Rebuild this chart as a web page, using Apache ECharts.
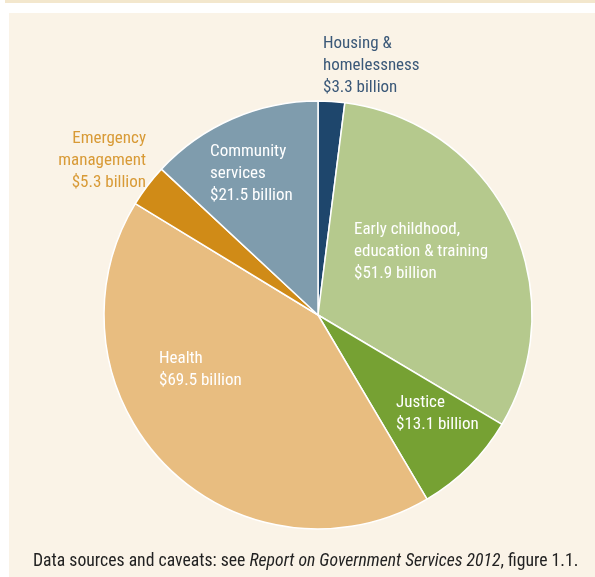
<!DOCTYPE html>
<html>
<head>
<meta charset="utf-8">
<script src="https://cdn.jsdelivr.net/npm/echarts@6/dist/echarts.min.js"></script>
<style>
  html, body { margin: 0; padding: 0; background: #ffffff; }
  #chart { width: 595px; height: 577px; }
</style>
</head>
<body>
<div id="chart"></div>
<script>
// Government services expenditure by sector, 2010-11
const categories = [
  'Housing &\nhomelessness',
  'Early childhood,\neducation & training',
  'Justice',
  'Health',
  'Emergency\nmanagement',
  'Community\nservices'
];
const values = [3.3, 51.9, 13.1, 69.5, 5.3, 21.5];
const colors = ['#1e466c', '#b5c98d', '#76a133', '#e8bd80', '#d08b17', '#7f9cad'];
const labelColors = ['#3a5878', '#ffffff', '#ffffff', '#ffffff', '#d89a36', '#ffffff'];

// Where each sector's caption sits (top-left of text block, or top-right for right aligned)
const labelSpots = [
  { x: 323, y: 33, align: 'left' },
  { x: 354, y: 219, align: 'left' },
  { x: 396, y: 392, align: 'left' },
  { x: 159, y: 348, align: 'left' },
  { x: 146, y: 128, align: 'right' },
  { x: 210, y: 141, align: 'left' }
];

const FONT = '"Liberation Sans Narrow", "Roboto Condensed", "Liberation Sans", sans-serif';

const chart = echarts.init(document.getElementById('chart'), null, { renderer: 'canvas' });

chart.setOption({
  animation: false,
  backgroundColor: '#ffffff',
  graphic: [
    { type: 'rect', shape: { x: 5, y: 0, width: 590, height: 3 }, style: { fill: '#f3e7cd' }, z: -10 },
    { type: 'rect', shape: { x: 9, y: 13, width: 586, height: 564 }, style: { fill: '#faf3e7' }, z: -10 },
    {
      type: 'text',
      left: 33,
      top: 553,
      style: {
        text: '{n|Data sources and caveats: see }{i|Report on Government Services 2012}{n|, figure 1.1.}',
        rich: {
          n: { fontFamily: FONT, fontSize: 17.7, fill: '#222222' },
          i: { fontFamily: FONT, fontSize: 17.7, fontStyle: 'italic', fill: '#222222' }
        }
      }
    }
  ],
  series: [{
    type: 'pie',
    center: [318, 315],
    radius: [0, 214],
    startAngle: 90,
    clockwise: true,
    silent: true,
    itemStyle: { borderColor: '#ffffff', borderWidth: 1.5 },
    labelLine: { show: false },
    data: categories.map((name, i) => ({
      name: name,
      value: values[i],
      itemStyle: { color: colors[i] },
      label: { color: labelColors[i] }
    })),
    label: {
      show: true,
      position: 'inside',
      fontFamily: FONT,
      fontSize: 17,
      lineHeight: 22,
      formatter: p => p.name + '\n$' + p.value.toFixed(1) + ' billion'
    },
    labelLayout: function (params) {
      const s = labelSpots[params.dataIndex];
      return { x: s.x, y: s.y, align: s.align, verticalAlign: 'top' };
    }
  }]
});
</script>
</body>
</html>
